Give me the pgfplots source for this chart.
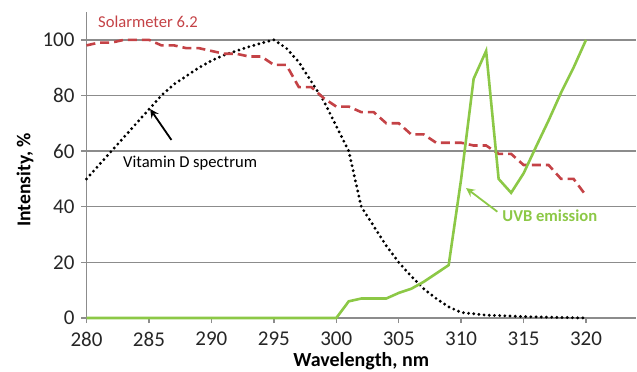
\documentclass[border=0pt]{standalone}
\usepackage{fontspec}
\setmainfont{Carlito}
\usepackage{pgfplots}
\pgfplotsset{compat=1.18}
\definecolor{solred}{RGB}{196,66,70}
\definecolor{uvbgreen}{RGB}{140,200,70}
\definecolor{gridgray}{RGB}{140,140,140}

\begin{document}
\begin{tikzpicture}
\begin{axis}[name=ax, scale only axis, width=274.75bp, height=153bp,
  xmin=280, xmax=324, ymin=0, ymax=110,
  xtick={280,285,...,320}, ytick={0,20,...,100},
  axis x line*=bottom, axis y line*=left,
  ymajorgrids, grid style={gridgray, line width=0.75bp},
  axis line style={gridgray, line width=0.9bp},
  tick style={gridgray, line width=0.75bp}, tick align=outside, major tick length=2.5bp,
  ticklabel style={font=\fontsize{10.5bp}{12bp}\selectfont, text=black!85},
  xticklabel style={yshift=-1bp},
  /pgf/number format/assume math mode=true,
  /pgf/number format/1000 sep={},
  clip=false]
% Vitamin D spectrum
\addplot[black, line width=1.6bp, line cap=round, dash pattern=on 0pt off 2.6bp] coordinates {
(280,50) (281,55) (282,60) (283,65) (284,70) (285,75) (286,80) (287,84) (288,87)
(289,90) (290,92.5) (291,94.5) (292,96) (293,97.5) (294,98.8) (295,100) (296,97)
(297,92) (298,85) (299,78) (300,69) (301,60) (302,40) (303,33) (304,26) (305,20)
(306,15) (307,10.5) (308,7) (309,4) (310,2) (311,1.5) (312,1) (313,0.9) (314,0.7)
(315,0.5) (316,0.4) (317,0.3) (318,0.2) (319,0.1) (320,0)};
% Solarmeter 6.2
\addplot[solred, line width=1.3bp, dash pattern=on 4.5bp off 2.5bp] coordinates {
(280,98) (281,99) (282,99) (283,100) (284,100) (285,100) (286,98) (287,98) (288,97)
(289,97) (290,96) (291,95) (292,95) (293,94) (294,94) (295,91) (296,91) (297,83)
(298,83) (299,79) (300,76) (301,76) (302,74) (303,74) (304,70) (305,70) (306,66)
(307,66) (308,63) (309,63) (310,63) (311,62) (312,62) (313,59) (314,59) (315,55)
(316,55) (317,55) (318,50) (319,50) (320,44)};
% UVB emission
\addplot[uvbgreen, line width=1.3bp] coordinates {
(280,0) (285,0) (290,0) (295,0) (300,0) (301,6) (302,7) (303,7) (304,7) (305,9)
(306,10.5) (307,13) (308,16) (309,19) (310,50) (311,86) (312,96) (313,50) (314,45)
(315,52) (316,61.6) (317,71) (318,81) (319,90) (320,100)};
% annotations
\node[anchor=west, text=solred, font=\fontsize{8.3bp}{10bp}\selectfont, inner sep=0pt] at (axis cs:280.9,106.6) {Solarmeter 6.2};
\node[text=black, font=\fontsize{8.3bp}{10bp}\selectfont, inner sep=0pt] at (axis cs:288.3,55.8) {Vitamin D spectrum};
\node[text=uvbgreen, font=\bfseries\fontsize{8.3bp}{10bp}\selectfont, inner sep=0pt] at (axis cs:317.1,36.8) {UVB emission};
\draw[-stealth, black, line width=0.9bp] (axis cs:286.8,64) -- (axis cs:285.1,75.1);
\draw[-stealth, uvbgreen, line width=0.9bp] (axis cs:312.9,38.2) -- (axis cs:310.4,46.7);
\end{axis}
\node[rotate=90, font=\bfseries\fontsize{9.8bp}{12bp}\selectfont] at ([xshift=-30.75bp,yshift=-7.5bp]ax.west) {Intensity, \%};
\node[font=\bfseries\fontsize{10bp}{12bp}\selectfont] at ([yshift=-21.5bp]ax.south) {Wavelength, nm};
\pgfresetboundingbox
\useasboundingbox ([xshift=-43.25bp,yshift=-27bp]ax.south west) rectangle ([xshift=0.5bp,yshift=6bp]ax.north east);
\end{tikzpicture}
\end{document}
